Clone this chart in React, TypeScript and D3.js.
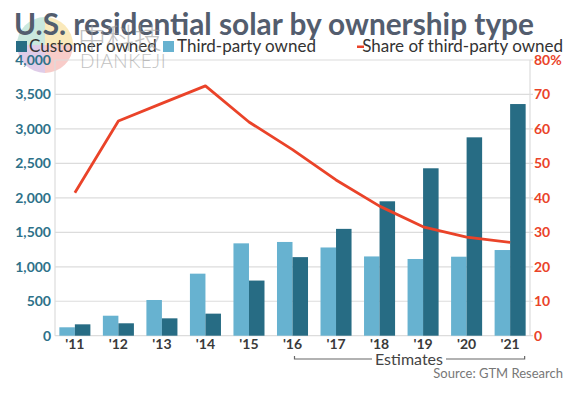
import { line as Line, scaleBand, scaleLinear, select } from "d3";
import React, { useLayoutEffect, useRef } from "react";

const years = ["'11", "'12", "'13", "'14", "'15", "'16", "'17", "'18", "'19", "'20", "'21"];
const thirdParty = [122, 290, 518, 900, 1340, 1360, 1280, 1150, 1113, 1146, 1243];
const customer = [165, 180, 252, 320, 800, 1140, 1550, 1950, 2429, 2878, 3361];
const share = [41.5, 62.3, 67.4, 72.5, 62, 54, 45.2, 37.6, 31.6, 28.6, 27.1];
const leftTicks = [0, 500, 1000, 1500, 2000, 2500, 3000, 3500, 4000];
const rightTicks = [0, 10, 20, 30, 40, 50, 60, 70, 80];

const W = 569;
const H = 398;
const DARK = "#276c84";
const LIGHT = "#67b2d0";
const RED = "#ea4329";
const FONT = "Lato, 'Open Sans', sans-serif";

const App: React.FC = () => {
  const ref = useRef<SVGSVGElement>(null);

  useLayoutEffect(() => {
    const svg = select(ref.current);
    const left = 55;
    const right = 530;
    const top = 60;
    const bottom = 335.7;

    const x = scaleBand<string>()
      .domain(years)
      .range([left, right])
      .paddingInner(0.287)
      .paddingOuter(0.1);
    const y = scaleLinear().domain([0, 4000]).range([bottom, top]);
    const yr = scaleLinear().domain([0, 80]).range([bottom, top]);
    const bw = x.bandwidth() / 2;

    const g = svg.append("g");

    // watermark (behind)
    const wm = g.append("g").attr("opacity", 0.55);
    const wmColors = ["#f7d884", "#f3a39e", "#c6a3d6", "#9fd6c4"];
    wmColors.forEach((c, i) => {
      const a0 = (i * Math.PI) / 2;
      const a1 = a0 + Math.PI / 2;
      const r = 28;
      const cx = 45;
      const cy = 45;
      wm.append("path")
        .attr("d", `M${cx},${cy}L${cx + r * Math.sin(a0)},${cy - r * Math.cos(a0)}A${r},${r} 0 0 1 ${cx + r * Math.sin(a1)},${cy - r * Math.cos(a1)}Z`)
        .attr("fill", c);
    });

    // grid
    g.selectAll("line.grid")
      .data(leftTicks)
      .enter()
      .append("line")
      .attr("x1", left)
      .attr("x2", right + 3)
      .attr("y1", (d) => y(d))
      .attr("y2", (d) => y(d))
      .attr("stroke", "#dcdcdc")
      .attr("stroke-width", 1.2);
    [left, right].forEach((xx) =>
      g.append("line")
        .attr("x1", xx).attr("x2", xx)
        .attr("y1", top).attr("y2", bottom)
        .attr("stroke", "#dcdcdc").attr("stroke-width", 1.2)
    );

    // bars
    g.selectAll("rect.tp")
      .data(thirdParty)
      .enter()
      .append("rect")
      .attr("x", (_, i) => x(years[i]) as number)
      .attr("y", (d) => y(d))
      .attr("width", bw)
      .attr("height", (d) => bottom - y(d))
      .attr("fill", LIGHT);
    g.selectAll("rect.cu")
      .data(customer)
      .enter()
      .append("rect")
      .attr("x", (_, i) => (x(years[i]) as number) + bw)
      .attr("y", (d) => y(d))
      .attr("width", bw)
      .attr("height", (d) => bottom - y(d))
      .attr("fill", DARK);

    // share line
    const line = Line<number>()
      .x((_, i) => (x(years[i]) as number) + bw)
      .y((d) => yr(d));
    g.append("path")
      .attr("d", line(share) as string)
      .attr("fill", "none")
      .attr("stroke", RED)
      .attr("stroke-width", 2.8)
      .attr("stroke-linejoin", "round");

    // left axis
    g.selectAll("text.ly")
      .data(leftTicks)
      .enter()
      .append("text")
      .attr("x", 51)
      .attr("y", (d) => y(d) + 5)
      .attr("text-anchor", "end")
      .attr("font-family", FONT)
      .attr("font-weight", 700)
      .attr("font-size", 14)
      .attr("fill", "#2e7189")
      .text((d) => d.toLocaleString("en-US"));

    // right axis
    g.selectAll("text.ry")
      .data(rightTicks)
      .enter()
      .append("text")
      .attr("x", 534)
      .attr("y", (d) => yr(d) + 5)
      .attr("font-family", FONT)
      .attr("font-weight", 700)
      .attr("font-size", 14)
      .attr("fill", RED)
      .text((d) => (d === 80 ? "80%" : String(d)));

    // x labels
    g.selectAll("text.xl")
      .data(years)
      .enter()
      .append("text")
      .attr("x", (d) => (x(d) as number) + bw)
      .attr("y", 349)
      .attr("text-anchor", "middle")
      .attr("font-family", FONT)
      .attr("font-weight", 700)
      .attr("font-size", 14)
      .attr("fill", "#3a3a3a")
      .text((d) => d);

    // estimates bracket
    const bx1 = (x("'16") as number) + bw + 2;
    const bx2 = (x("'21") as number) + x.bandwidth() - 1;
    const by = 359;
    const mid = 409;
    g.append("path")
      .attr("d", `M${bx1},${by - 3}V${by}H${mid - 37}M${mid + 37},${by}H${bx2}V${by - 3}`)
      .attr("fill", "none")
      .attr("stroke", "#666")
      .attr("stroke-width", 1.2);
    g.append("text")
      .attr("x", mid)
      .attr("y", 365)
      .attr("text-anchor", "middle")
      .attr("font-family", FONT)
      .attr("font-size", 16)
      .attr("fill", "#444")
      .text("Estimates");

    g.append("text")
      .attr("x", 563)
      .attr("y", 378)
      .attr("text-anchor", "end")
      .attr("font-family", FONT)
      .attr("font-size", 13)
      .attr("fill", "#777")
      .text("Source: GTM Research");

    // title
    g.append("text")
      .attr("x", 14)
      .attr("y", 35)
      .attr("font-family", FONT)
      .attr("font-weight", 700)
      .attr("font-size", 29.8)
      .attr("fill", "#535d6e")
      .text("U.S. residential solar by ownership type");

    // legend
    const leg = g.append("g").attr("font-family", FONT).attr("font-size", 17).attr("fill", "#333");
    leg.append("rect").attr("x", 16).attr("y", 41).attr("width", 11).attr("height", 11).attr("fill", DARK);
    leg.append("text").attr("x", 29).attr("y", 52).text("Customer owned");
    leg.append("rect").attr("x", 163).attr("y", 41).attr("width", 11).attr("height", 11).attr("fill", LIGHT);
    leg.append("text").attr("x", 177).attr("y", 52).text("Third-party owned");
    leg.append("rect").attr("x", 357).attr("y", 45.5).attr("width", 7).attr("height", 2.5).attr("fill", RED);
    leg.append("text").attr("x", 563).attr("y", 52).attr("text-anchor", "end").text("Share of third-party owned");

    // watermark text (faint, over title)
    const wt = g.append("g").attr("opacity", 0.6).attr("fill", "#9a9a9a");
    wt.append("text")
      .attr("x", 80)
      .attr("y", 68)
      .attr("font-family", FONT)
      .attr("font-weight", 300)
      .attr("font-size", 19)
      .attr("letter-spacing", 0.5)
      .text("DIANKEJI");
    wt.append("text")
      .attr("x", 78)
      .attr("y", 49)
      .attr("font-family", "'Noto Sans CJK SC'")
      .attr("font-weight", 300)
      .attr("font-size", 28)
      .text("中科技");

    return () => {
      svg.selectAll("*").remove();
    };
  }, []);

  return (
    <svg
      ref={ref}
      width={W}
      height={H}
      style={{ position: "absolute", left: 0, top: 0, background: "#fff" }}
    />
  );
};

export default App;
